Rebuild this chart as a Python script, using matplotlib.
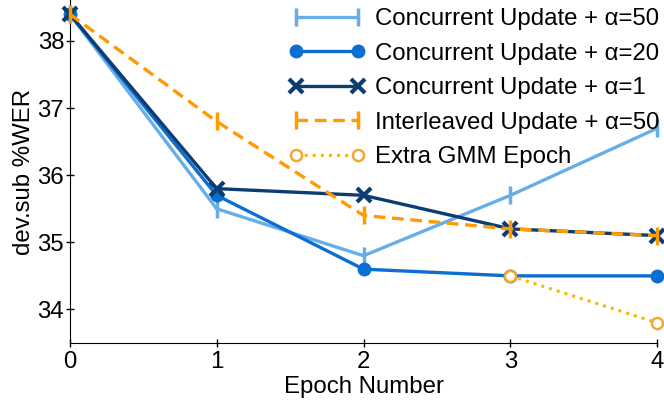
import matplotlib
matplotlib.use("Agg")
import matplotlib.pyplot as plt

epochs = [0, 1, 2, 3, 4]
conc_a50 = [38.4, 35.5, 34.8, 35.7, 36.7]
conc_a20 = [38.4, 35.7, 34.6, 34.5, 34.5]
conc_a1 = [38.4, 35.8, 35.7, 35.2, 35.1]
inter_a50 = [38.4, 36.8, 35.4, 35.2, 35.1]
gmm_epochs = [3, 4]
gmm_extra = [34.5, 33.8]

labels = ["Concurrent Update + α=50", "Concurrent Update + α=20",
          "Concurrent Update + α=1", "Interleaved Update + α=50",
          "Extra GMM Epoch"]

plt.rcParams['font.family'] = ['Liberation Sans', 'DejaVu Sans']
fig = plt.figure(figsize=(6.64, 4.04), dpi=100)
ax = fig.add_axes([0.105, 0.151, 0.885, 0.849])

fs = 17.3
lw = 2.4
ax.plot(epochs, conc_a50, color='#66aee8', lw=lw, marker='|', ms=13, mew=2.5,
        label=labels[0], clip_on=False, zorder=3)
ax.plot(epochs, conc_a20, color='#0a6fd0', lw=lw, marker='o', ms=9,
        label=labels[1], clip_on=False, zorder=4)
ax.plot(epochs, conc_a1, color='#0c3c72', lw=lw, marker='x', ms=10, mew=3,
        label=labels[2], clip_on=False, zorder=5)
ax.plot(epochs, inter_a50, color='#ff9a00', lw=lw, ls=(0, (3.5, 2)), marker='|',
        ms=13, mew=2.5, label=labels[3], clip_on=False, zorder=6)
ax.plot(gmm_epochs, gmm_extra, color='#f8b800', lw=2.2, ls=':', marker='o', ms=8,
        mfc='white', mec='#f5a830', mew=1.8, label=labels[4], clip_on=False, zorder=7)

ax.set_xlim(0, 4)
ax.set_ylim(33.5, 38.61)
ax.set_xticks([0, 1, 2, 3, 4])
ax.set_yticks([34, 35, 36, 37, 38])
ax.spines['top'].set_visible(False)
ax.spines['right'].set_visible(False)
ax.tick_params(direction='inout', length=6, width=1, labelsize=fs)
ax.tick_params(axis='x', pad=3)
ax.tick_params(axis='y', pad=1)
ax.set_xlabel("Epoch Number", fontsize=fs, labelpad=2)
ax.set_ylabel("dev.sub %WER", fontsize=fs, labelpad=2)

ax.legend(loc='upper right', frameon=False, fontsize=fs, numpoints=2,
          handlelength=3.2, handletextpad=0.4, labelspacing=0.52,
          borderpad=0.2, borderaxespad=0.0, bbox_to_anchor=(1.012, 0.99))

fig.savefig("out.png", dpi=100)
